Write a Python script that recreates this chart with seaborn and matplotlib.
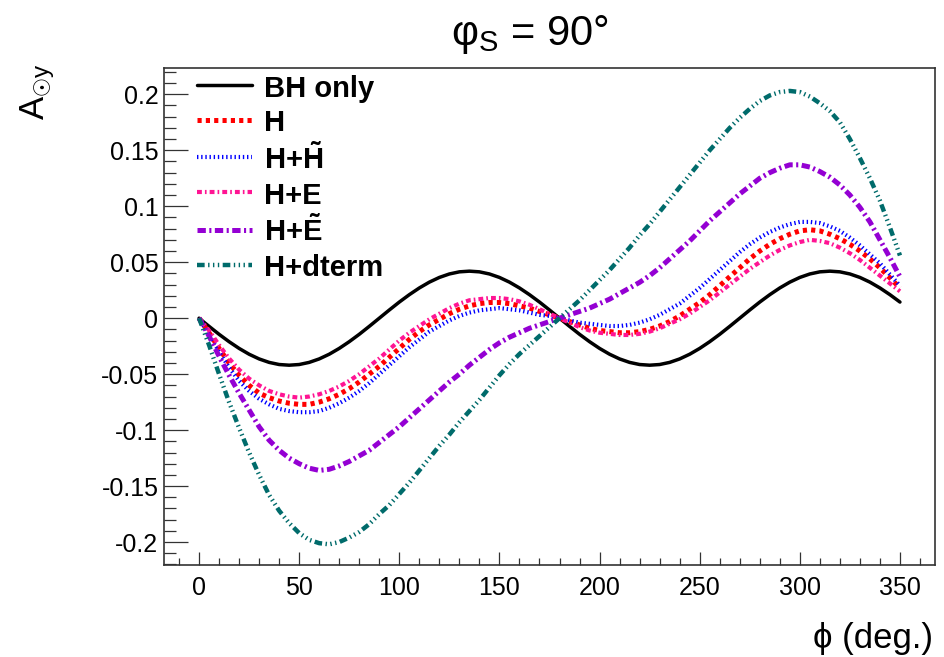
import matplotlib
matplotlib.use('Agg')
import matplotlib.pyplot as plt
import seaborn as sns

# ---------------- data ----------------
phi = list(range(0, 351, 5))

bh_only = [0, -0.0073, -0.0144, -0.0210, -0.0270, -0.0322, -0.0364, -0.0395, -0.0414, -0.0420,
           -0.0414, -0.0395, -0.0364, -0.0322, -0.0270, -0.0210, -0.0144, -0.0073, 0, 0.0073,
           0.0144, 0.0210, 0.0270, 0.0322, 0.0364, 0.0395, 0.0414, 0.0420, 0.0414, 0.0395,
           0.0364, 0.0322, 0.0270, 0.0210, 0.0144, 0.0073, 0,
           -0.0073, -0.0144, -0.0210, -0.0270, -0.0322, -0.0364, -0.0395, -0.0414, -0.0420,
           -0.0414, -0.0395, -0.0364, -0.0322, -0.0270, -0.0210, -0.0144, -0.0073, 0, 0.0073,
           0.0144, 0.0210, 0.0270, 0.0322, 0.0364, 0.0395, 0.0414, 0.0420, 0.0414, 0.0395,
           0.0364, 0.0322, 0.0270, 0.0210, 0.0144]

h_only = [0, -0.013, -0.027, -0.040, -0.051, -0.060, -0.067, -0.071, -0.074, -0.076,
          -0.077, -0.077, -0.075, -0.072, -0.068, -0.063, -0.057, -0.050, -0.043, -0.035,
          -0.027, -0.019, -0.012, -0.006, -0.001, 0.004, 0.008, 0.011, 0.013, 0.014,
          0.014, 0.013, 0.011, 0.009, 0.006, 0.003, 0,
          -0.003, -0.006, -0.009, -0.011, -0.012, -0.013, -0.013, -0.012, -0.010, -0.007,
          -0.003, 0.002, 0.008, 0.014, 0.021, 0.029, 0.037, 0.045, 0.053, 0.060,
          0.066, 0.071, 0.075, 0.078, 0.079, 0.078, 0.075, 0.071, 0.066, 0.060,
          0.053, 0.045, 0.036, 0.027]

h_htilde = [0, -0.014, -0.030, -0.044, -0.056, -0.065, -0.072, -0.077, -0.081, -0.083,
            -0.084, -0.084, -0.083, -0.080, -0.076, -0.071, -0.065, -0.058, -0.050, -0.042,
            -0.034, -0.026, -0.019, -0.012, -0.007, -0.002, 0.002, 0.005, 0.007, 0.008,
            0.009, 0.008, 0.007, 0.005, 0.003, 0.002, 0,
            -0.002, -0.004, -0.005, -0.006, -0.007, -0.007, -0.006, -0.004, -0.001, 0.003,
            0.008, 0.013, 0.020, 0.027, 0.035, 0.043, 0.051, 0.059, 0.066, 0.072,
            0.077, 0.081, 0.084, 0.086, 0.086, 0.085, 0.082, 0.078, 0.072, 0.065,
            0.057, 0.049, 0.039, 0.029]

h_e = [0, -0.011, -0.024, -0.036, -0.046, -0.054, -0.060, -0.065, -0.068, -0.070,
       -0.071, -0.070, -0.068, -0.065, -0.061, -0.056, -0.050, -0.043, -0.036, -0.028,
       -0.020, -0.013, -0.007, -0.001, 0.004, 0.009, 0.013, 0.016, 0.017, 0.018,
       0.018, 0.017, 0.015, 0.012, 0.008, 0.004, 0,
       -0.004, -0.008, -0.011, -0.013, -0.014, -0.015, -0.015, -0.014, -0.012, -0.009,
       -0.005, -0.001, 0.004, 0.010, 0.016, 0.023, 0.030, 0.037, 0.044, 0.050,
       0.056, 0.061, 0.065, 0.068, 0.070, 0.069, 0.067, 0.063, 0.058, 0.052,
       0.045, 0.038, 0.031, 0.024]

h_etilde = [0, -0.016, -0.034, -0.051, -0.067, -0.082, -0.097, -0.109, -0.118, -0.125,
            -0.130, -0.134, -0.136, -0.135, -0.132, -0.128, -0.123, -0.118, -0.111, -0.104,
            -0.097, -0.089, -0.081, -0.073, -0.065, -0.057, -0.050, -0.042, -0.035, -0.028,
            -0.022, -0.017, -0.013, -0.009, -0.006, -0.003, 0,
            0.003, 0.006, 0.009, 0.013, 0.017, 0.022, 0.027, 0.032, 0.038, 0.045,
            0.053, 0.061, 0.069, 0.078, 0.087, 0.095, 0.103, 0.111, 0.118, 0.125,
            0.130, 0.134, 0.137, 0.137, 0.135, 0.131, 0.126, 0.119, 0.110, 0.099,
            0.086, 0.070, 0.054, 0.037]

h_dterm = [0, -0.024, -0.050, -0.075, -0.098, -0.120, -0.140, -0.158, -0.172, -0.183,
           -0.192, -0.198, -0.201, -0.202, -0.200, -0.196, -0.191, -0.184, -0.175, -0.167,
           -0.157, -0.147, -0.136, -0.125, -0.114, -0.104, -0.093, -0.083, -0.073, -0.062,
           -0.051, -0.041, -0.032, -0.024, -0.016, -0.008, 0,
           0.008, 0.016, 0.025, 0.034, 0.043, 0.053, 0.063, 0.074, 0.084, 0.095,
           0.106, 0.117, 0.128, 0.139, 0.150, 0.160, 0.170, 0.179, 0.187, 0.194,
           0.199, 0.202, 0.203, 0.202, 0.198, 0.192, 0.185, 0.175, 0.160, 0.143,
           0.125, 0.105, 0.081, 0.056]

series = [bh_only, h_only, h_htilde, h_e, h_etilde, h_dterm]
labels = ['BH only', 'H', r'H+$\mathbf{\tilde{H}}$', 'H+E', r'H+$\mathbf{\tilde{E}}$', 'H+dterm']
colors = ['#000000', '#ff0000', '#0000ff', '#ff1493', '#9400d3', '#006b6b']

x_ticks = [0, 50, 100, 150, 200, 250, 300, 350]
x_ticklabels = ['0', '50', '100', '150', '200', '250', '300', '350']
y_ticks = [-0.2, -0.15, -0.1, -0.05, 0, 0.05, 0.1, 0.15, 0.2]
y_ticklabels = ['-0.2', '-0.15', '-0.1', '-0.05', '0', '0.05', '0.1', '0.15', '0.2']

# ---------------- style ----------------
sns.set_theme(style='white')
plt.rcParams['font.family'] = ['Liberation Sans', 'DejaVu Sans']
plt.rcParams['mathtext.fontset'] = 'custom'
plt.rcParams['mathtext.rm'] = 'Liberation Sans'
plt.rcParams['mathtext.it'] = 'Liberation Sans:italic'
plt.rcParams['mathtext.bf'] = 'Liberation Sans:bold'
plt.rcParams['lines.scale_dashes'] = False
plt.rcParams['text.color'] = 'black'
plt.rcParams['axes.labelcolor'] = 'black'
plt.rcParams['xtick.color'] = 'black'
plt.rcParams['ytick.color'] = 'black'

line_styles = [
    dict(lw=2.5, ls='-'),
    dict(lw=3.6, ls=(0, (3.0, 3.0))),
    dict(lw=3.0, ls=(0, (1.0, 2.0))),
    dict(lw=3.0, ls=(0, (3.5, 2.2, 1.2, 2.2))),
    dict(lw=3.6, ls=(0, (6.0, 2.5, 1.5, 2.5))),
    dict(lw=3.2, ls=(0, (5.5, 2.5, 1.0, 2.5, 1.0, 2.5, 1.0, 2.5))),
]

fig = plt.figure(figsize=(9.44, 6.57), dpi=100)
ax = fig.add_axes([164 / 944, 1 - 565 / 657, (935 - 164) / 944, (565 - 68) / 657])

for vals, col, st in zip(series, colors, line_styles):
    sns.lineplot(x=phi, y=vals, color=col, ax=ax, linewidth=st['lw'],
                 linestyle=st['ls'], legend=False)

ax.set_xlim(-17.5, 367.5)
ax.set_ylim(-0.2205, 0.2235)
ax.set_xlabel('')
ax.set_ylabel('')

ax.set_xticks(x_ticks)
ax.set_xticklabels(x_ticklabels)
ax.set_xticks(list(range(-10, 361, 10)), minor=True)
ax.set_yticks(y_ticks)
ax.set_yticklabels(y_ticklabels)
ax.set_yticks([i / 100 for i in range(-22, 23)], minor=True)

ax.tick_params(axis='both', which='both', direction='in', top=False, right=False,
               bottom=True, left=True, color='#333333', width=0.9,
               labelsize=18, labelcolor='black')
ax.tick_params(axis='x', which='major', length=9.7, pad=8)
ax.tick_params(axis='x', which='minor', length=5)
ax.tick_params(axis='y', which='major', length=17, pad=4)
ax.tick_params(axis='y', which='minor', length=8.6)

for sp in ax.spines.values():
    sp.set_visible(True)
    sp.set_color('#333333')
    sp.set_linewidth(1.2)

lines = ax.get_lines()[:6]
leg = ax.legend(handles=lines, labels=labels, loc='upper left',
                bbox_to_anchor=(0.043, 0.989), frameon=False, borderpad=0,
                borderaxespad=0, handlelength=1.89, handletextpad=0.4,
                handleheight=1.0, labelspacing=0.2,
                prop={'family': 'Liberation Sans', 'weight': 'bold', 'size': 21})
for t in leg.get_texts():
    t.set_color('black')

fig.text(530 / 944, 1 - 45 / 657, r'$\mathrm{\varphi}_{\mathrm{S}}$ = 90°',
         ha='center', va='baseline', fontsize=30, color='black')
fig.text(933 / 944, 1 - 648 / 657, 'ϕ (deg.)', ha='right', va='baseline',
         fontsize=25, color='black')
fig.text(57 / 944, 1 - 64 / 657, r'A$_{\odot\mathrm{y}}$', rotation=90,
         ha='right', va='top', fontsize=25, color='black')

fig.savefig('out.png', dpi=100)
